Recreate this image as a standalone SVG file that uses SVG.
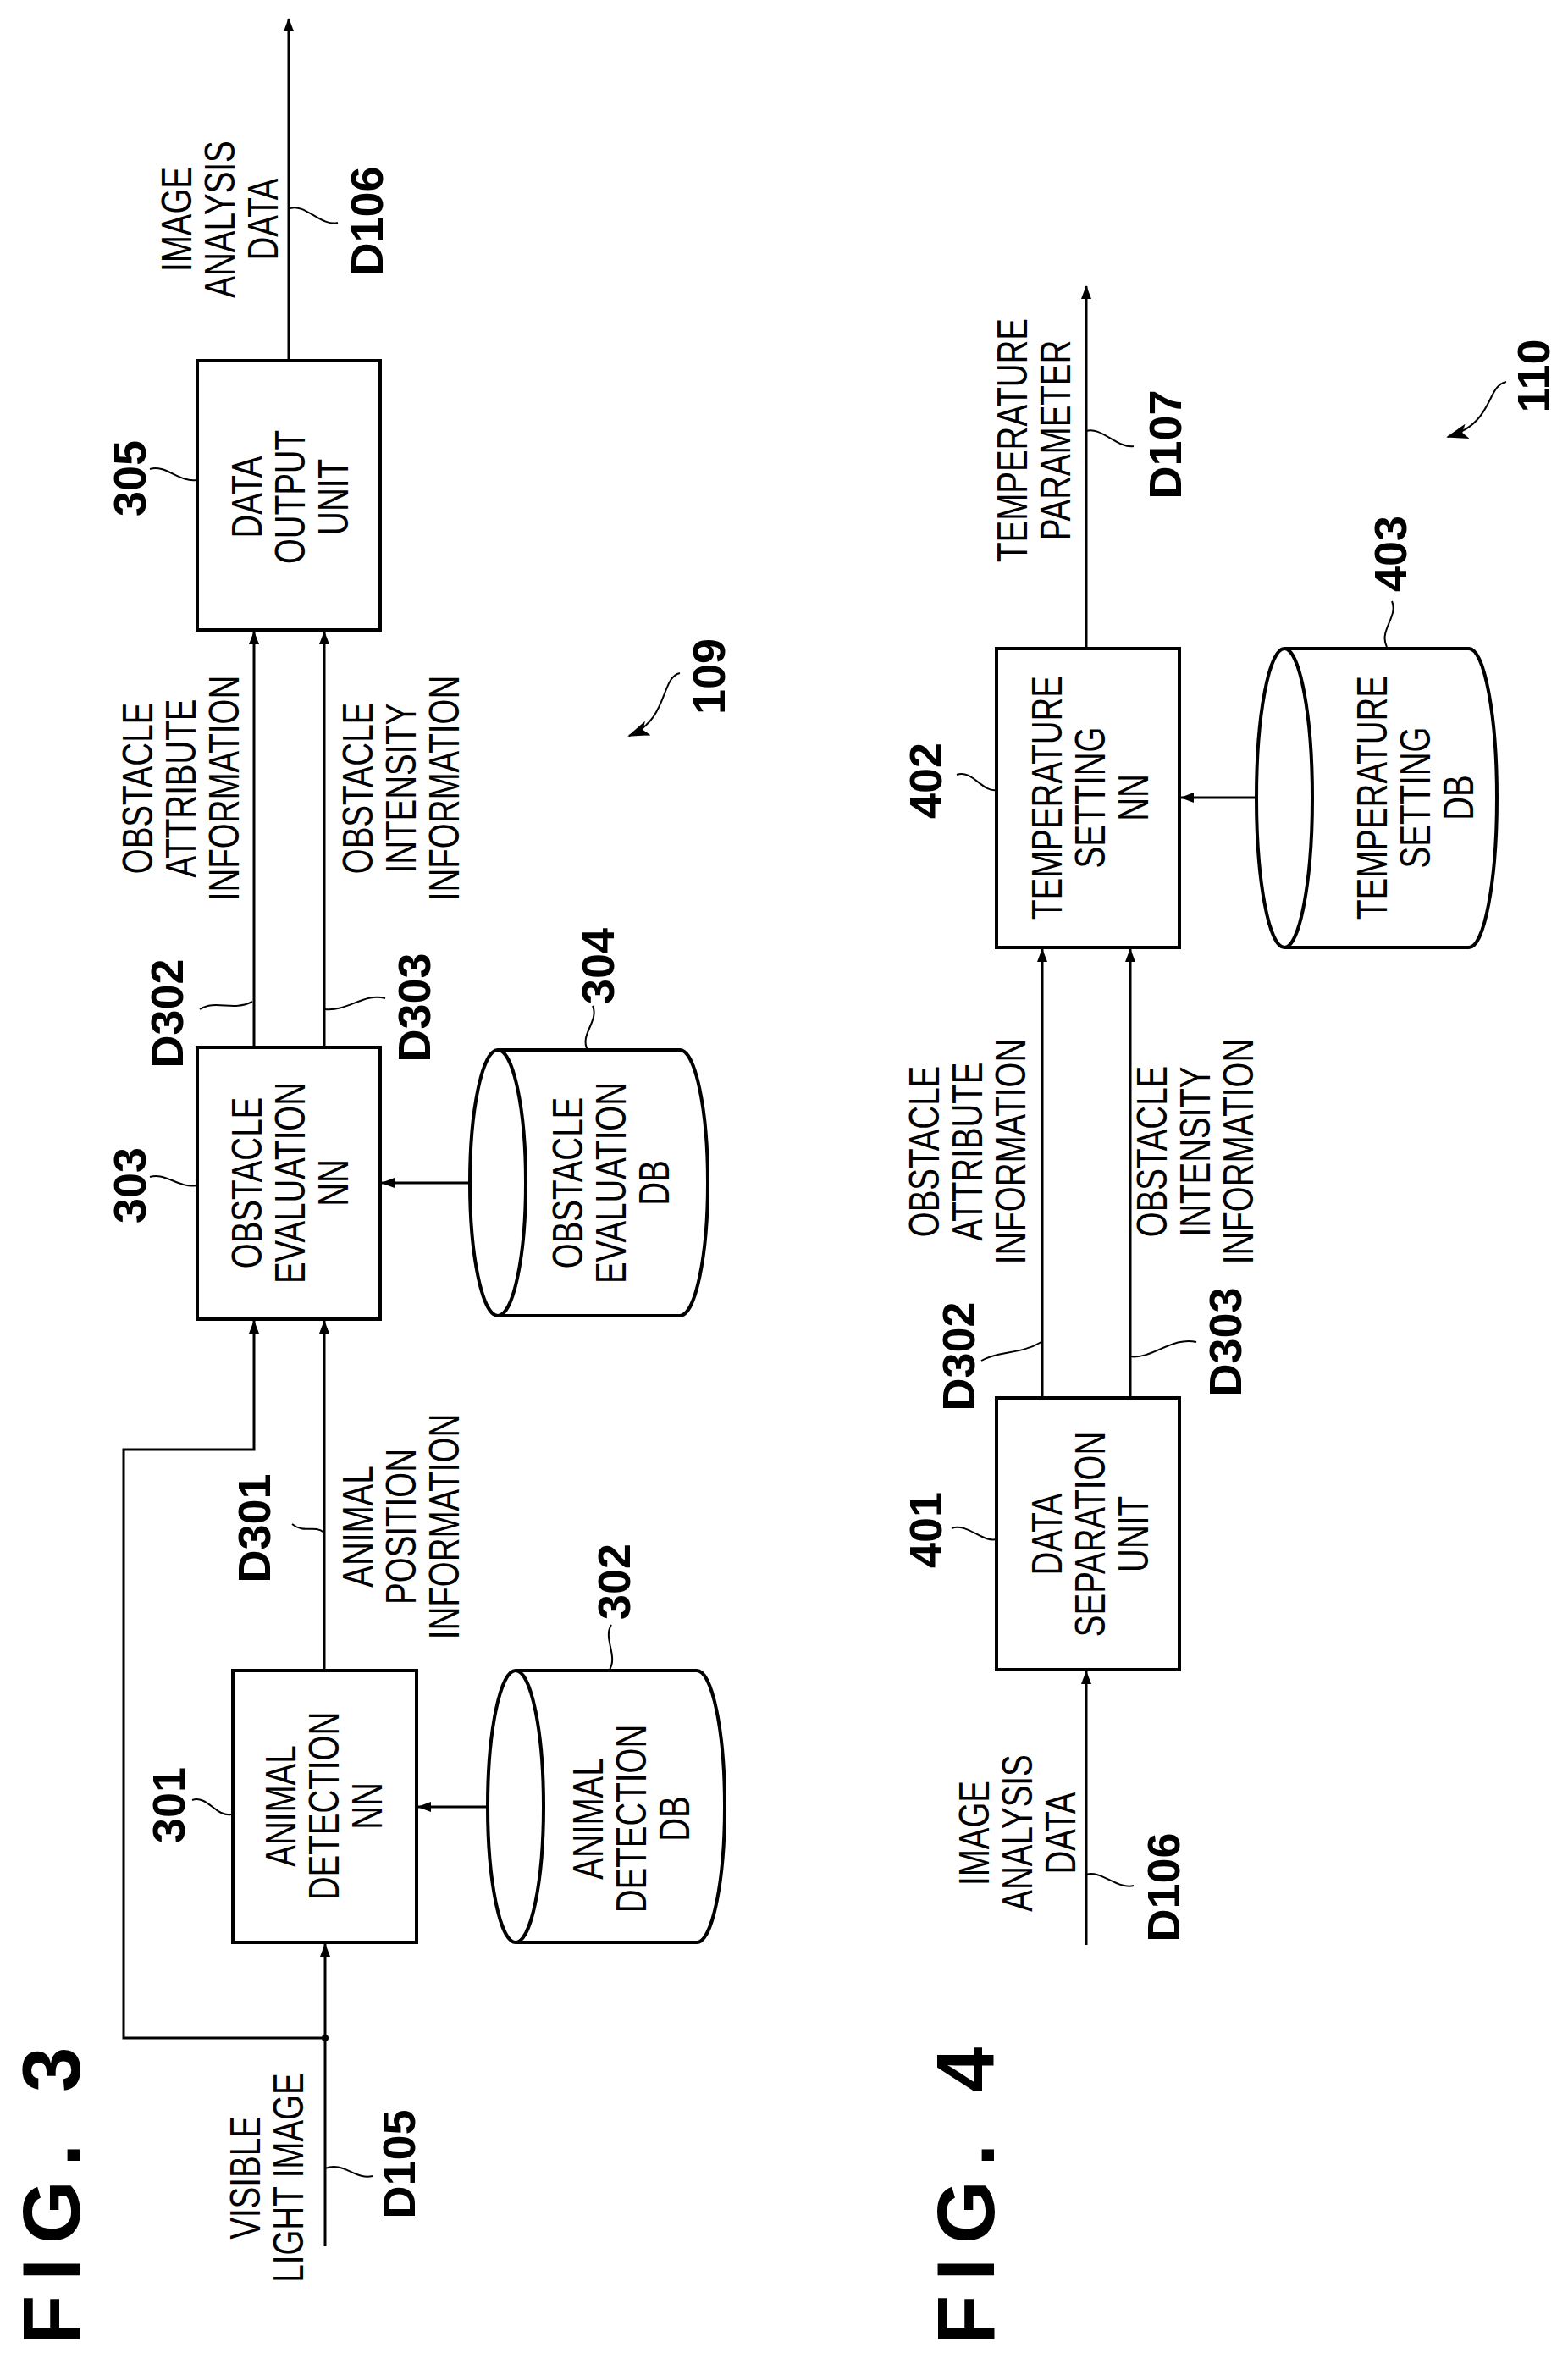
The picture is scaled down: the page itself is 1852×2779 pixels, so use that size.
<svg xmlns="http://www.w3.org/2000/svg" width="1852" height="2779" viewBox="0 0 1852 2779">
<style>
.b{fill:#fff;stroke:#000;stroke-width:4}
.c{fill:none;stroke:#000;stroke-width:3}
.l{fill:none;stroke:#000;stroke-width:2}
.t{font-family:"Liberation Sans",Arial,sans-serif;font-size:50px;text-anchor:middle;fill:#000}
.n{font-family:"Liberation Sans",Arial,sans-serif;font-size:54px;font-weight:bold;text-anchor:middle;fill:#000}
.f{font-family:"Liberation Sans",Arial,sans-serif;font-size:96px;font-weight:bold;letter-spacing:17px;text-anchor:middle;fill:#000}
</style>
<defs>
<marker id="a" markerWidth="16" markerHeight="12" refX="15" refY="6" orient="auto" markerUnits="userSpaceOnUse"><path d="M0,0 L16,6 L0,12 Z" fill="#000"/></marker>
<marker id="s" markerWidth="26" markerHeight="18" refX="24" refY="9" orient="auto" markerUnits="userSpaceOnUse"><path d="M0,0 L26,9 L0,18 L6,9 Z" fill="#000"/></marker>
</defs>
<text class="f" transform="translate(94,2585) rotate(-90)">FIG. 3</text>
<text class="f" transform="translate(1174,2585) rotate(-90)">FIG. 4</text>
<g id="connectors">
<path class="c" d="M384,2653 V2296" marker-end="url(#a)"/>
<path class="c" d="M384,2407 H146 V1712 H300 V1560" marker-end="url(#a)"/>
<circle cx="384" cy="2407" r="4"/>
<path class="c" d="M383,1973 V1560" marker-end="url(#a)"/>
<path class="c" d="M576,2134 H494" marker-end="url(#a)"/>
<path class="c" d="M555,1397 H451" marker-end="url(#a)"/>
<path class="c" d="M300,1237 V746" marker-end="url(#a)"/>
<path class="c" d="M383,1237 V746" marker-end="url(#a)"/>
<path class="c" d="M341,426 V22" marker-end="url(#a)"/>
<path class="c" d="M1283,2297 V1974" marker-end="url(#a)"/>
<path class="c" d="M1231,1651 V1121" marker-end="url(#a)"/>
<path class="c" d="M1335,1651 V1121" marker-end="url(#a)"/>
<path class="c" d="M1484,942 H1395" marker-end="url(#a)"/>
<path class="c" d="M1283,766 V338" marker-end="url(#a)"/>
<path class="l" d="M384,2561 C405,2552 420,2575 440,2570"/>
<path class="l" d="M383,1810 C370,1800 360,1812 345,1800"/>
<path class="l" d="M227,2126 C245,2120 255,2146 273,2143"/>
<path class="l" d="M722,1919 C712,1935 730,1955 720,1972"/>
<path class="l" d="M177,1390 C195,1384 212,1404 232,1400"/>
<path class="l" d="M694,1240 C684,1222 708,1206 700,1188"/>
<path class="l" d="M236,1192 C255,1180 275,1195 298,1183"/>
<path class="l" d="M384,1192 C410,1195 430,1172 455,1179"/>
<path class="l" d="M177,554 C195,548 212,570 232,567"/>
<path class="l" d="M343,246 C360,240 380,268 399,263"/>
<path class="l" d="M803,795 C780,800 790,850 743,869" marker-end="url(#s)"/>
<path class="l" d="M1283,2214 C300,2214 0,0 0,0" style="display:none"/>
<path class="l" d="M1283,2214 C1300,2208 1320,2232 1339,2227"/>
<path class="l" d="M1124,1805 C1142,1798 1160,1822 1177,1818"/>
<path class="l" d="M1159,1607 C1180,1595 1205,1600 1230,1585"/>
<path class="l" d="M1335,1602 C1360,1606 1385,1578 1413,1585"/>
<path class="l" d="M1130,915 C1148,908 1160,936 1177,933"/>
<path class="l" d="M1638,764 C1628,745 1652,728 1644,710"/>
<path class="l" d="M1283,509 C1300,503 1320,530 1339,527"/>
<path class="l" d="M1779,451 C1755,456 1765,500 1710,516" marker-end="url(#s)"/>
</g>
<g id="n301"><rect class="b" x="275" y="1973" width="217" height="321"/>
<text class="t" transform="translate(349,2133) rotate(-90) scale(.77,1)"><tspan x="0" y="0">ANIMAL</tspan><tspan x="0" y="51">DETECTION</tspan><tspan x="0" y="102">NN</tspan></text>
<text class="n" transform="translate(218,2132) rotate(-90)">301</text></g>
<g id="n302"><path class="b" d="M609,1973 H823 A33,160.5 0 0 1 823,2294 H609"/><ellipse class="b" cx="609" cy="2133.5" rx="33" ry="160.5"/>
<text class="t" transform="translate(712,2148) rotate(-90) scale(.77,1)"><tspan x="0" y="0">ANIMAL</tspan><tspan x="0" y="51">DETECTION</tspan><tspan x="0" y="102">DB</tspan></text>
<text class="n" transform="translate(744,1868) rotate(-90)">302</text></g>
<g id="n303"><rect class="b" x="233" y="1237" width="216" height="321"/>
<text class="t" transform="translate(309,1397) rotate(-90) scale(.77,1)"><tspan x="0" y="0">OBSTACLE</tspan><tspan x="0" y="51">EVALUATION</tspan><tspan x="0" y="102">NN</tspan></text>
<text class="n" transform="translate(172,1400) rotate(-90)">303</text></g>
<g id="n304"><path class="b" d="M588,1240 H803 A33,157 0 0 1 803,1554 H588"/><ellipse class="b" cx="588" cy="1397" rx="33" ry="157"/>
<text class="t" transform="translate(688,1397) rotate(-90) scale(.77,1)"><tspan x="0" y="0">OBSTACLE</tspan><tspan x="0" y="51">EVALUATION</tspan><tspan x="0" y="102">DB</tspan></text>
<text class="n" transform="translate(725,1141) rotate(-90)">304</text></g>
<g id="n305"><rect class="b" x="233" y="426" width="216" height="318"/>
<text class="t" transform="translate(309,587) rotate(-90) scale(.77,1)"><tspan x="0" y="0">DATA</tspan><tspan x="0" y="51">OUTPUT</tspan><tspan x="0" y="102">UNIT</tspan></text>
<text class="n" transform="translate(172,565) rotate(-90)">305</text></g>
<g id="labels3">
<text class="t" transform="translate(307,2572) rotate(-90) scale(.77,1)"><tspan x="0" y="0">VISIBLE</tspan><tspan x="0" y="51">LIGHT IMAGE</tspan></text>
<text class="n" transform="translate(490,2556) rotate(-90)">D105</text>
<text class="n" transform="translate(319,1805) rotate(-90)">D301</text>
<text class="t" transform="translate(440,1803) rotate(-90) scale(.77,1)"><tspan x="0" y="0">ANIMAL</tspan><tspan x="0" y="51">POSITION</tspan><tspan x="0" y="102">INFORMATION</tspan></text>
<text class="n" transform="translate(216,1197) rotate(-90)">D302</text>
<text class="n" transform="translate(508,1190) rotate(-90)">D303</text>
<text class="t" transform="translate(180,931) rotate(-90) scale(.77,1)"><tspan x="0" y="0">OBSTACLE</tspan><tspan x="0" y="51">ATTRIBUTE</tspan><tspan x="0" y="102">INFORMATION</tspan></text>
<text class="t" transform="translate(440,931) rotate(-90) scale(.77,1)"><tspan x="0" y="0">OBSTACLE</tspan><tspan x="0" y="51">INTENSITY</tspan><tspan x="0" y="102">INFORMATION</tspan></text>
<text class="t" transform="translate(226,259) rotate(-90) scale(.77,1)"><tspan x="0" y="0">IMAGE</tspan><tspan x="0" y="51">ANALYSIS</tspan><tspan x="0" y="102">DATA</tspan></text>
<text class="n" transform="translate(452,261) rotate(-90)">D106</text>
<text class="n" transform="translate(856,799) rotate(-90)">109</text>
</g>
<g id="n401"><rect class="b" x="1177" y="1651" width="216" height="321"/>
<text class="t" transform="translate(1254,1812) rotate(-90) scale(.77,1)"><tspan x="0" y="0">DATA</tspan><tspan x="0" y="51">SEPARATION</tspan><tspan x="0" y="102">UNIT</tspan></text>
<text class="n" transform="translate(1112,1807) rotate(-90)">401</text></g>
<g id="n402"><rect class="b" x="1177" y="766" width="216" height="353"/>
<text class="t" transform="translate(1254,942) rotate(-90) scale(.77,1)"><tspan x="0" y="0">TEMPERATURE</tspan><tspan x="0" y="51">SETTING</tspan><tspan x="0" y="102">NN</tspan></text>
<text class="n" transform="translate(1112,922) rotate(-90)">402</text></g>
<g id="n403"><path class="b" d="M1517,766 H1735 A33,176.5 0 0 1 1735,1119 H1517"/><ellipse class="b" cx="1517" cy="942.5" rx="33" ry="176.5"/>
<text class="t" transform="translate(1638,942) rotate(-90) scale(.77,1)"><tspan x="0" y="0">TEMPERATURE</tspan><tspan x="0" y="51">SETTING</tspan><tspan x="0" y="102">DB</tspan></text>
<text class="n" transform="translate(1661,654) rotate(-90)">403</text></g>
<g id="labels4">
<text class="t" transform="translate(1168,2165) rotate(-90) scale(.77,1)"><tspan x="0" y="0">IMAGE</tspan><tspan x="0" y="51">ANALYSIS</tspan><tspan x="0" y="102">DATA</tspan></text>
<text class="n" transform="translate(1393,2229) rotate(-90)">D106</text>
<text class="n" transform="translate(1151,1602) rotate(-90)">D302</text>
<text class="n" transform="translate(1466,1585) rotate(-90)">D303</text>
<text class="t" transform="translate(1109,1360) rotate(-90) scale(.77,1)"><tspan x="0" y="0">OBSTACLE</tspan><tspan x="0" y="51">ATTRIBUTE</tspan><tspan x="0" y="102">INFORMATION</tspan></text>
<text class="t" transform="translate(1378,1360) rotate(-90) scale(.77,1)"><tspan x="0" y="0">OBSTACLE</tspan><tspan x="0" y="51">INTENSITY</tspan><tspan x="0" y="102">INFORMATION</tspan></text>
<text class="t" transform="translate(1213,520) rotate(-90) scale(.77,1)"><tspan x="0" y="0">TEMPERATURE</tspan><tspan x="0" y="51">PARAMETER</tspan></text>
<text class="n" transform="translate(1395,525) rotate(-90)">D107</text>
<text class="n" transform="translate(1830,444) rotate(-90)">110</text>
</g>
</svg>
